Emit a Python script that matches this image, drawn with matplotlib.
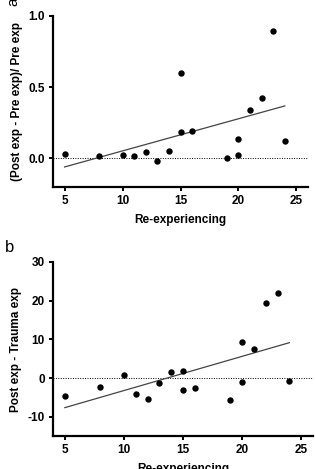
import numpy as np
import matplotlib
matplotlib.use("Agg")
import matplotlib.pyplot as plt

plt.rcParams['font.family'] = ['Liberation Sans', 'DejaVu Sans']

# Panel a data
x_a = [5, 8, 10, 11, 12, 13, 14, 15, 15, 16, 19, 20, 20, 21, 22, 23, 24]
y_a = [0.035, 0.02, 0.026, 0.02, 0.045, -0.019, 0.055, 0.188, 0.602, 0.195,
       0.005, 0.026, 0.136, 0.338, 0.426, 0.898, 0.121]

# Panel b data
x_b = [5, 8, 10, 11, 12, 13, 14, 15, 15, 16, 19, 20, 20, 21, 22, 23, 24]
y_b = [-4.7, -2.4, 0.9, -4.1, -5.5, -1.2, 1.5, 1.9, -3.0, -2.6,
       -5.6, 9.3, -1.0, 7.4, 19.4, 22.1, -0.9]

xticks = [5, 10, 15, 20, 25]
yticks_a = [0.0, 0.5, 1.0]
yticks_a_labels = ['0.0', '0.5', '1.0']
yticks_b = [-10, 0, 10, 20, 30]

xlabel = 'Re-experiencing'
ylabel_a = '(Post exp - Pre exp)/ Pre exp'
ylabel_b = 'Post exp - Trauma exp'

W, H = 315, 469
fig = plt.figure(figsize=(W / 100, H / 100), dpi=100)

def px_axes(left, top, right, bottom):
    return fig.add_axes([left / W, 1 - bottom / H, (right - left) / W, (bottom - top) / H])

ax_a = px_axes(53, 16, 308, 187)
ax_b = px_axes(53, 262, 313, 436)

def style(ax, x, y, xlim, ylim, yticks, ylabels, ylab):
    ax.plot(x, y, 'o', color='black', markersize=4.6, zorder=3, markeredgewidth=0)
    slope, intercept = np.polyfit(x, y, 1)
    xs = np.array([min(x), max(x)])
    ax.plot(xs, slope * xs + intercept, color='#444444', lw=0.9, zorder=2)
    ax.axhline(0, color='black', lw=0.7, ls=(0, (1, 1.5)), zorder=1)
    ax.set_xlim(*xlim)
    ax.set_ylim(*ylim)
    ax.set_xticks(xticks)
    ax.set_yticks(yticks)
    ax.set_yticklabels(ylabels)
    for s in ['top', 'right']:
        ax.spines[s].set_visible(False)
    for s in ['left', 'bottom']:
        ax.spines[s].set_linewidth(1.6)
    ax.tick_params(direction='out', length=3, width=1.4, labelsize=8.5, pad=3)
    for lab in ax.get_xticklabels() + ax.get_yticklabels():
        lab.set_fontweight('bold')
    ax.set_xlabel(xlabel, fontsize=8.5, fontweight='bold', labelpad=5)
    ax.set_ylabel(ylab, fontsize=8.5, fontweight='bold', labelpad=4)

style(ax_a, x_a, y_a, (4, 26), (-0.2, 1.0), yticks_a, yticks_a_labels, ylabel_a)
style(ax_b, x_b, y_b, (4, 26), (-15, 30), yticks_b, [str(v) for v in yticks_b], ylabel_b)

fig.text(13 / W, 1 - 2 / H, 'a', rotation=90, fontsize=11, ha='center', va='center')
fig.text(10 / W, 1 - 247 / H, 'b', fontsize=12, ha='center', va='center')

fig.savefig('out.png', dpi=100)
